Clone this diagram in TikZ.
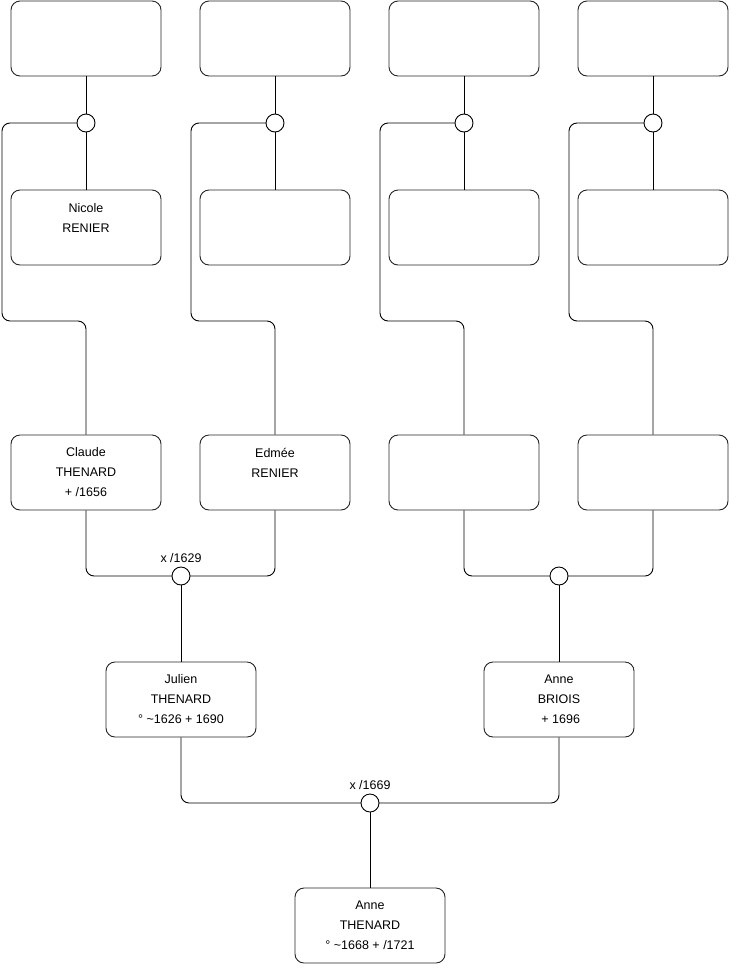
\documentclass[tikz,border=0pt]{standalone}
\usepackage{fontspec}
\setmainfont{Liberation Sans}
\begin{document}
\begin{tikzpicture}[x=1pt,y=-1pt,
  person/.style={draw=black!85,line width=0.9pt,rounded corners=9pt,fill=white,
    minimum width=150pt,minimum height=75pt,align=center,inner sep=0pt,
    font=\fontsize{12.5}{20}\selectfont},
  knot/.style={circle,draw=black,line width=0.9pt,fill=white,minimum size=18pt,inner sep=0pt},
  conn/.style={draw=black,line width=0.9pt,rounded corners=8pt},
  lbl/.style={font=\fontsize{12.5}{15}\selectfont,inner sep=0pt}]
\useasboundingbox (0,0) rectangle (740,975);
% top row
\foreach \i/\x in {1/86,2/275,3/464,4/653}{
  \node[person] (t\i) at (\x,38.5) {};
}
% second row
\node[person] (m1) at (86,227.5) {Nicole\\RENIER\\~};
\node[person] (m2) at (275,227.5) {};
\node[person] (m3) at (464,227.5) {};
\node[person] (m4) at (653,227.5) {};
% third row
\node[person] (b1) at (86,472.5) {Claude\\THENARD\\+ /1656};
\node[person] (b2) at (275,472.5) {Edmée\\RENIER\\~};
\node[person] (b3) at (464,472.5) {};
\node[person] (b4) at (653,472.5) {};
% lower
\node[person] (jul) at (181,699.5) {Julien\\THENARD\\° \textasciitilde1626 + 1690};
\node[person] (bri) at (559,699.5) {Anne\\BRIOIS\\~+ 1696};
\node[person] (ann) at (370,925.5) {Anne\\THENARD\\° \textasciitilde1668 + /1721};
% knots
\foreach \i/\x in {1/86,2/275,3/464,4/653}{
  \coordinate (k\i) at (\x,123);
}
\coordinate (kj) at (181,576);
\coordinate (kb) at (559,576);
\coordinate (ka) at (370,803);
% connectors top
\foreach \i/\x in {1/86,2/275,3/464,4/653}{
  \draw[conn] (t\i.south) -- (m\i.north);
  \draw[conn] (k\i) -- (\x-84,123) -- (\x-84,321) -- (\x,321) -- (b\i.north);
}
\draw[conn] (b1.south) |- (kj);
\draw[conn] (b2.south) |- (kj);
\draw[conn] (b3.south) |- (kb);
\draw[conn] (b4.south) |- (kb);
\draw[conn] (kj) -- (jul.north);
\draw[conn] (kb) -- (bri.north);
\draw[conn] (jul.south) |- (ka);
\draw[conn] (bri.south) |- (ka);
\draw[conn] (ka) -- (ann.north);
% knot circles
\foreach \k in {k1,k2,k3,k4,kj,kb,ka}{
  \node[knot] (n\k) at (\k) {};
}
\node[lbl] (l1) at (181,558) {x /1629};
\node[lbl] (l2) at (370,785) {x /1669};
\end{tikzpicture}
\end{document}
